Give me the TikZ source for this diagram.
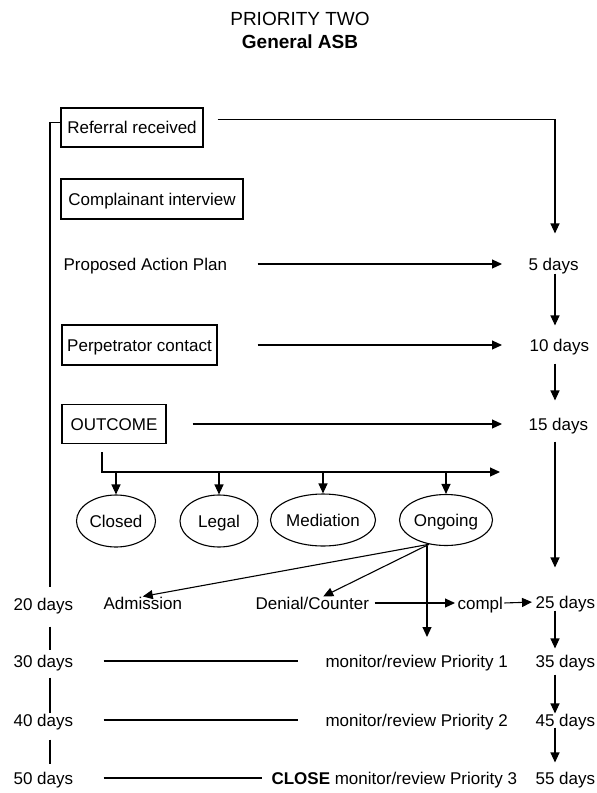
\documentclass[tikz,border=0pt]{standalone}
\usepackage{fontspec}
\setmainfont{Liberation Sans}
\usetikzlibrary{arrows.meta,shapes.geometric}

\newcommand{\bodyfont}{\fontsize{17}{20}\selectfont}
\newcommand{\headfont}{\fontsize{19}{22}\selectfont}

\begin{document}
\begin{tikzpicture}[x=1pt,y=-1pt,line width=1.1pt,
  every node/.style={font=\bodyfont,inner sep=0pt,text height=12pt,text depth=0pt},
  stage/.style={draw,minimum height=39pt},
  lbl/.style={anchor=west},
  oval/.style={draw,ellipse,minimum height=52pt},
  arr/.style={-{Triangle[length=10pt,width=9pt]}}]
\useasboundingbox (0,0) rectangle (597,793);

% heading
\node[font=\headfont] (head) at (300,19) {PRIORITY TWO};
\node[font=\headfont\bfseries] (sub) at (300,42) {General ASB};

% stages down the left
\node[stage,minimum width=142pt] (ref) at (132,127.5) {Referral received};
\node[stage,minimum width=182pt,minimum height=40pt] (cmp) at (152,199) {Complainant interview};
\node[lbl] (pap) at (63,264) {Proposed Action Plan};
\node[stage,minimum width=155pt,minimum height=40pt] (per) at (139.5,345) {Perpetrator contact};
\node[stage,minimum width=104pt] (out) at (114,424) {OUTCOME};

% days on the right
\coordinate (rx) at (555,118);
\node[lbl] (d5) at (528,264) {5 days};
\node[lbl] (d10) at (529,345) {10 days};
\node[lbl] (d15) at (528,424) {15 days};
\node[lbl] (d25) at (535,602) {25 days};
\node[lbl] (d35) at (535,661) {35 days};
\node[lbl] (d45) at (535,720) {45 days};
\node[lbl] (d55) at (535,778) {55 days};

\draw[arr,shorten >=24pt] ([shift={(14,-8)}]ref.east) -| (d5.north -| rx);
\draw[arr,shorten <=3pt,shorten >=13pt] (d5.south -| rx) -- (d10.north -| rx);
\draw[arr,shorten <=12pt,shorten >=17pt] (d10.south -| rx) -- (d15.north -| rx);
\draw[arr,shorten <=11pt,shorten >=28pt] (d15.south -| rx) -- (d25.north -| rx);
\draw[arr,shorten <=2pt,shorten >=6pt] (d25.south -| rx) -- (d35.north -| rx);
\draw[arr,shorten <=7pt] (d35.south -| rx) -- (d45.north -| rx);
\draw[arr,shorten <=1pt,shorten >=9pt] (d45.south -| rx) -- (d55.north -| rx);

\draw[arr,shorten <=30pt,shorten >=26pt] (pap.east) -- (d5.west);
\draw[arr,shorten <=40pt,shorten >=27pt] (per.east) -- (d10.west);
\draw[arr,shorten <=26pt,shorten >=26pt] (out.east) -- (d15.west);

% outcome branches
\coordinate (busend) at (500,472);
\draw[arr] ([shift={(-12,8)}]out.south) |- (busend);
\node[oval,minimum width=79pt] (closed) at (116,521) {Closed};
\node[oval,minimum width=78pt] (legal) at (219,521) {Legal};
\node[oval,minimum width=105pt] (med) at (323,520) {Mediation};
\node[oval,minimum width=93pt,minimum height=51pt] (ong) at (446,520) {Ongoing};
\draw[arr] (closed.north |- busend) -- (closed.north);
\draw[arr] (legal.north |- busend) -- (legal.north);
\draw[arr] (med.north |- busend) -- (med.north);
\draw[arr] (ong.north |- busend) -- (ong.north);

% ongoing cases
\node[lbl] (adm) at (103,603) {Admission};
\node[lbl] (den) at (255,603) {Denial/Counter};
\node[lbl] (cpl) at (457,603) {compl};
\coordinate (mon) at (427,637);
\draw[arr] (ong.235) -- (adm.north);
\draw[arr] (ong.235) -- ([xshift=11pt]den.north);
\draw[arr] (ong.south -| mon) -- (mon);
\draw[arr,shorten <=5pt,shorten >=2pt] (den.east) -- (cpl.west);
\draw[arr,shorten <=1pt,shorten >=3pt] (cpl.east) -- (d25.west);

% monitoring
\node[lbl] (m1) at (325,661) {monitor/review Priority 1};
\node[lbl] (m2) at (325,720) {monitor/review Priority 2};
\node[lbl] (m3) at (271,778) {\textbf{CLOSE} monitor/review Priority 3};

% day count down the left
\coordinate (lx) at (50,587);
\node[lbl] (d20) at (13,604) {20 days};
\node[lbl] (d30) at (13,661) {30 days};
\node[lbl] (d40) at (13,720) {40 days};
\node[lbl] (d50) at (13,778) {50 days};
\draw ([yshift=5pt]ref.west) -| (lx);
\draw[shorten <=16pt,shorten >=4pt] (d20.south -| lx) -- (d30.north -| lx);
\draw[shorten <=10pt] (d30.south -| lx) -- (d40.north -| lx);
\draw[shorten <=13pt,shorten >=7pt] (d40.south -| lx) -- (d50.north -| lx);
\draw[shorten <=30pt,shorten >=27pt] (d30.east) -- (m1.west);
\draw[shorten <=30pt,shorten >=27pt] (d40.east) -- (m2.west);
\draw[shorten <=30pt,shorten >=9pt] (d50.east) -- (m3.west);
\end{tikzpicture}
\end{document}
